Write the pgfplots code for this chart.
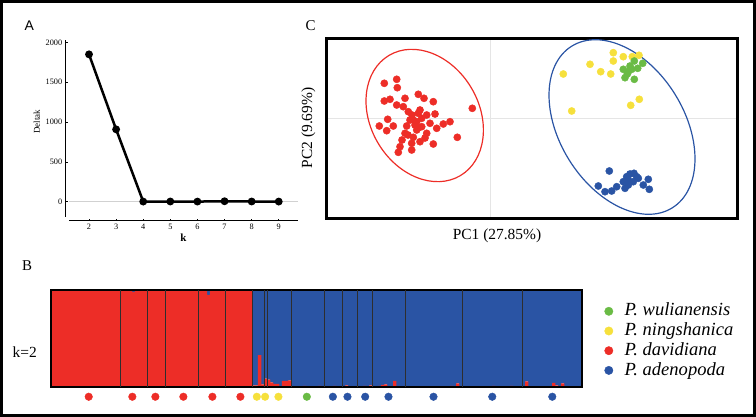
\documentclass[border=0pt]{standalone}
\usepackage{pgfplots}
\pgfplotsset{compat=1.18}
\usepackage{pgfplotstable}
\usepackage{fontspec}
\setmainfont{Liberation Serif}
\newfontfamily\arialfont{Liberation Sans}
\definecolor{RedC}{RGB}{237,45,39}
\definecolor{BlueC}{RGB}{42,84,164}
\definecolor{YellowC}{RGB}{246,224,60}
\definecolor{GreenC}{RGB}{106,187,69}

\pgfplotstableread{
x r b
0.5 1 0
1.5 1 0
2.5 1 0
3.5 1 0
4.5 1 0
5.5 1 0
6.5 1 0
7.5 1 0
8.5 1 0
9.5 1 0
10.5 1 0
11.5 1 0
12.5 1 0
13.5 1 0
14.5 1 0
15.5 1 0
16.5 1 0
17.5 1 0
18.5 1 0
19.5 1 0
20.5 1 0
21.5 1 0
22.5 1 0
23.5 1 0
24.5 1 0
25.5 1 0
26.5 1 0
27.5 0.98 0.02
28.5 1 0
29.5 1 0
30.5 1 0
31.5 1 0
32.5 1 0
33.5 1 0
34.5 1 0
35.5 1 0
36.5 1 0
37.5 1 0
38.5 1 0
39.5 1 0
40.5 1 0
41.5 1 0
42.5 1 0
43.5 1 0
44.5 1 0
45.5 1 0
46.5 1 0
47.5 1 0
48.5 1 0
49.5 1 0
50.5 1 0
51.5 1 0
52.5 0.95 0.05
53.5 1 0
54.5 1 0
55.5 1 0
56.5 1 0
57.5 1 0
58.5 1 0
59.5 1 0
60.5 1 0
61.5 1 0
62.5 1 0
63.5 1 0
64.5 1 0
65.5 0.99 0.01
66.5 1 0
67.5 0.02 0.98
68.5 0.02 0.98
69.5 0.33 0.67
70.5 0.03 0.97
71.5 0.09 0.91
72.5 0.08 0.92
73.5 0.05 0.95
74.5 0.035 0.965
75.5 0.035 0.965
76.5 0.01 0.99
77.5 0.065 0.935
78.5 0.065 0.935
79.5 0.07 0.93
80.5 0.01 0.99
81.5 0.005 0.995
82.5 0.01 0.99
83.5 0.005 0.995
84.5 0.015 0.985
85.5 0.005 0.995
86.5 0.01 0.99
87.5 0.01 0.99
88.5 0.005 0.995
89.5 0.015 0.985
90.5 0.005 0.995
91.5 0.01 0.99
92.5 0.005 0.995
93.5 0.01 0.99
94.5 0.015 0.985
95.5 0.005 0.995
96.5 0.01 0.99
97.5 0.005 0.995
98.5 0.02 0.98
99.5 0.01 0.99
100.5 0.005 0.995
101.5 0.01 0.99
102.5 0.01 0.99
103.5 0.005 0.995
104.5 0.015 0.985
105.5 0.01 0.99
106.5 0.02 0.98
107.5 0.005 0.995
108.5 0.01 0.99
109.5 0.015 0.985
110.5 0.025 0.975
111.5 0.03 0.97
112.5 0.01 0.99
113.5 0.005 0.995
114.5 0.065 0.935
115.5 0.01 0.99
116.5 0.005 0.995
117.5 0.01 0.99
118.5 0.005 0.995
119.5 0.01 0.99
120.5 0.005 0.995
121.5 0.005 0.995
122.5 0.01 0.99
123.5 0.005 0.995
124.5 0.005 0.995
125.5 0.01 0.99
126.5 0.005 0.995
127.5 0.01 0.99
128.5 0.005 0.995
129.5 0.005 0.995
130.5 0.01 0.99
131.5 0.005 0.995
132.5 0.01 0.99
133.5 0.015 0.985
134.5 0.01 0.99
135.5 0.04 0.96
136.5 0.01 0.99
137.5 0.005 0.995
138.5 0.005 0.995
139.5 0.01 0.99
140.5 0.005 0.995
141.5 0.005 0.995
142.5 0.01 0.99
143.5 0.005 0.995
144.5 0.01 0.99
145.5 0.005 0.995
146.5 0.005 0.995
147.5 0.015 0.985
148.5 0.01 0.99
149.5 0.005 0.995
150.5 0.01 0.99
151.5 0.005 0.995
152.5 0.01 0.99
153.5 0.015 0.985
154.5 0.01 0.99
155.5 0.005 0.995
156.5 0.01 0.99
157.5 0.005 0.995
158.5 0.06 0.94
159.5 0.01 0.99
160.5 0.005 0.995
161.5 0.01 0.99
162.5 0.005 0.995
163.5 0.01 0.99
164.5 0.005 0.995
165.5 0.01 0.99
166.5 0.005 0.995
167.5 0.045 0.955
168.5 0.02 0.98
169.5 0.01 0.99
170.5 0.04 0.96
171.5 0.01 0.99
172.5 0.005 0.995
173.5 0.01 0.99
174.5 0.005 0.995
175.5 0.01 0.99
176.5 0.005 0.995
}\structtab

\pgfplotstableread{
x y
-10.57 3.47
-9.33 3.87
-9.27 3.03
-10.57 1.70
-10.00 1.87
-9.33 1.30
-8.50 1.97
-7.17 2.37
-6.60 1.97
-5.67 1.63
-1.77 0.97
-8.67 1.13
-8.17 0.63
-7.17 0.47
-6.33 0.30
-5.50 0.40
-10.23 -0.13
-11.07 -0.80
-10.33 -1.27
-9.67 -0.80
-8.33 -0.80
-7.33 -0.37
-6.83 -0.87
-6.00 -0.53
-5.33 -1.03
-4.67 -0.60
-4.00 -0.37
-8.50 -1.53
-7.67 -1.93
-7.00 -2.37
-6.33 -1.53
-7.83 -2.53
-9.00 -2.87
-9.17 -3.43
-7.83 -3.20
-5.67 -2.60
-3.27 -1.93
-7.33 -1.20
-7.67 -0.20
-6.83 -0.03
-8.00 -0.20
-7.50 -0.70
-8.20 -1.70
-7.20 -1.00
-7.80 0.30
-7.00 0.80
-8.80 -2.20
-6.50 -2.00
}\redtab

\pgfplotstableread{
x y
11.93 -5.30
10.83 -6.80
11.50 -7.37
12.17 -7.30
12.67 -6.87
13.50 -7.03
13.33 -6.37
13.83 -6.20
14.00 -5.60
14.40 -5.53
14.83 -6.03
14.33 -6.37
13.83 -6.70
15.33 -6.70
15.83 -6.13
15.93 -7.13
13.67 -5.87
14.67 -5.87
}\bluetab

\pgfplotstableread{
x y
12.33 6.53
12.33 5.70
13.33 6.13
14.23 6.13
14.90 6.27
10.00 5.37
11.07 4.63
12.07 4.40
7.33 4.40
8.17 0.70
14.07 1.27
14.93 1.87
}\yellowtab

\pgfplotstableread{
x y
14.43 5.70
14.00 5.20
13.33 4.87
13.83 4.63
14.77 4.97
15.27 5.47
13.50 4.03
14.43 3.87
14.17 4.87
13.73 4.40
}\greentab

\begin{document}
\begin{tikzpicture}
\useasboundingbox (0bp,0bp) rectangle (756bp,-417bp);
\draw[line width=3bp] (1.5bp,-1.5bp) rectangle (754.5bp,-415.5bp);

% panel letters
\node[font=\arialfont\fontsize{14}{16}\selectfont] at (29.3bp,-25.7bp) {A};
\node[font=\fontsize{15}{17}\selectfont] at (310.7bp,-25.7bp) {C};
\node[font=\fontsize{15}{17}\selectfont] at (27bp,-266bp) {B};
\node[font=\fontsize{15.5}{17}\selectfont] at (24.7bp,-351.7bp) {k=2};

% ---------- panel A ----------
\begin{axis}[
  at={(65.7bp,-220.7bp)}, anchor=south west, scale only axis,
  width=232bp, height=180.7bp,
  xmin=1.14, xmax=9.70, ymin=-238, ymax=2029,
  axis line style={draw=none},
  xtick={2,3,4,5,6,7,8,9}, ytick={0,500,1000,1500,2000},
  tick pos=left, major tick length=2bp, tick style={black, line width=0.5bp},
  ticklabel style={font=\fontsize{8.3}{10}\selectfont},
  /pgf/number format/assume math mode=true,
  /pgf/number format/1000 sep={},
  xlabel={\textbf{k}},
  xlabel style={at={(axis description cs:0.507,-0.092)}, anchor=center, font=\fontsize{11}{12}\selectfont},
  ylabel={Deltak},
  ylabel style={at={(axis description cs:-0.125,0.548)}, anchor=center, font=\fontsize{9}{10}\selectfont},
  clip=false]
\draw[black!18, line width=0.8bp] (axis cs:1.27,0) -- (axis cs:9.70,0);
\draw[black, line width=1.5bp] (axis cs:1.14,-188) -- (axis cs:1.14,2029);
\draw[black, line width=1.5bp] (axis cs:1.27,-238) -- (axis cs:9.70,-238);
\addplot[black, line width=2.5bp, mark=*, mark size=2.6bp] coordinates {
(2,1849) (3,908) (4,2) (5,3) (6,2) (7,6) (8,3) (9,2)};
\end{axis}

% ---------- panel C ----------
\begin{axis}[
  at={(326bp,-218bp)}, anchor=south west,
  x=10bp, y=10bp,
  xmin=-16.4, xmax=24.7, ymin=-10, ymax=8,
  axis line style={line width=3bp, black},
  xtick={0}, ytick={0}, xticklabels={}, yticklabels={},
  major tick length=0pt, grid=major,
  major grid style={black!10, line width=0.6bp},
  xlabel={PC1 (27.85\%)},
  xlabel style={at={(axis description cs:0.416,-0.1)}, anchor=center, font=\fontsize{15.5}{17}\selectfont},
  ylabel={PC2 (9.69\%)},
  ylabel style={at={(axis description cs:-0.043,0.5)}, anchor=center, font=\fontsize{15.5}{17}\selectfont},
  clip=false]
\addplot[only marks, mark=*, mark size=3.6bp, RedC] table {\redtab};
\addplot[only marks, mark=*, mark size=3.6bp, BlueC] table {\bluetab};
\addplot[only marks, mark=*, mark size=3.6bp, YellowC] table {\yellowtab};
\addplot[only marks, mark=*, mark size=3.6bp, GreenC] table {\greentab};
\draw[RedC, line width=1.2bp] (axis cs:-6.53,0.25) ellipse [x radius=69.9bp, y radius=54.2bp, rotate=120.7];
\draw[BlueC, line width=1.2bp] (axis cs:13.2,-0.9) ellipse [x radius=95.2bp, y radius=62.3bp, rotate=121.9];
\end{axis}

% ---------- panel B ----------
\begin{axis}[
  at={(51bp,-387.3bp)}, anchor=south west, scale only axis,
  width=531.3bp, height=97.3bp,
  xmin=0, xmax=177, ymin=0, ymax=1,
  ybar stacked, bar width=1.1,
  axis on top,
  axis line style={line width=2bp, black},
  xtick=\empty, ytick=\empty,
  extra x ticks={23,32,38,49,58,67,71,72,80,91,97,102,107,118,137,157},
  extra x tick labels={},
  extra x tick style={grid=major, major tick length=0pt},
  major grid style={black!82, line width=0.7bp}]
\addplot[fill=RedC, draw=none] table[x=x, y=r] {\structtab};
\addplot[fill=BlueC, draw=none] table[x=x, y=b] {\structtab};
\end{axis}

% population dots and legend
\begin{axis}[
  at={(51bp,-387.3bp)}, anchor=south west, scale only axis,
  width=531.3bp, height=97.3bp,
  xmin=0, xmax=177, ymin=0, ymax=1,
  hide axis, clip=false,
  legend image code/.code={\draw[#1, mark size=4.2bp] plot coordinates {(0bp,0bp)};},
  legend style={at={(axis description cs:1.036,0.905)}, anchor=north west,
    draw=none, fill=none, font=\itshape\fontsize{18.6}{20}\selectfont,
    legend cell align=left, row sep=0bp, column sep=10bp,
    nodes={inner sep=1.5bp, text height=13bp, text depth=3.7bp}}]
\addlegendimage{only marks, mark=*, GreenC}
\addlegendentry{P. wulianensis}
\addlegendimage{only marks, mark=*, YellowC}
\addlegendentry{P. ningshanica}
\addlegendimage{only marks, mark=*, RedC}
\addlegendentry{P. davidiana}
\addlegendimage{only marks, mark=*, BlueC}
\addlegendentry{P. adenopoda}
\addplot[only marks, mark=*, mark size=3.8bp, RedC, forget plot] coordinates {
(12.57,-0.097) (27.1,-0.097) (34.77,-0.097) (44.1,-0.097) (53.77,-0.097) (63.1,-0.097)};
\addplot[only marks, mark=*, mark size=3.8bp, YellowC, forget plot] coordinates {
(68.57,-0.097) (71.33,-0.097) (75.77,-0.097)};
\addplot[only marks, mark=*, mark size=3.8bp, GreenC, forget plot] coordinates {
(85.23,-0.097)};
\addplot[only marks, mark=*, mark size=3.8bp, BlueC, forget plot] coordinates {
(93.9,-0.097) (98.77,-0.097) (104.67,-0.097) (112.43,-0.097) (127.43,-0.097) (147,-0.097) (167,-0.097)};
\end{axis}
\end{tikzpicture}
\end{document}
